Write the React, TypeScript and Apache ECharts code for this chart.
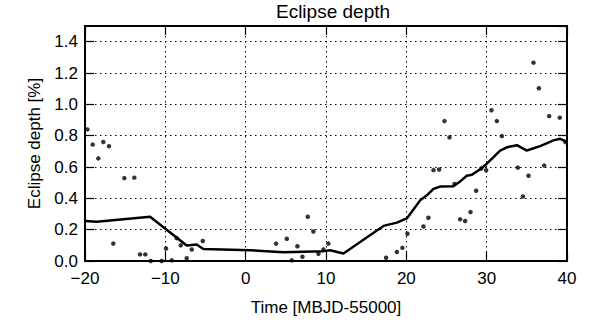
import React, { useEffect, useRef } from "react";
import * as echarts from "echarts";

const chartTitle = "Eclipse depth";
const xAxisTitle = "Time [MBJD-55000]";
const yAxisTitle = "Eclipse depth [%]";

const xTicks = [-20, -10, 0, 10, 20, 30, 40];
const yTicks = [0.0, 0.2, 0.4, 0.6, 0.8, 1.0, 1.2, 1.4];

const dotTimes = [
  -19.7, -19.04, -18.34, -17.72, -17.01, -16.48, -15.1, -13.86, -13.15, -12.49, -11.82, -10.45, -9.91, -9.2, -8.58, -8.08, -7.34, -6.71, -5.34,
  3.79, 5.12, 5.74, 6.44, 7.07, 7.73, 8.43, 9.06, 9.68, 10.3,
  17.48, 18.82, 19.51, 20.14, 22.13, 22.75, 23.38, 24.08, 24.75, 25.37, 25.99, 26.7, 27.32, 27.99, 28.69, 29.32, 29.94,
  30.6, 31.27, 31.89, 33.88, 34.51, 35.21, 35.83, 36.5, 37.16, 37.78, 39.1, 39.8,
];
const dotDepths = [
  0.84, 0.743, 0.655, 0.76, 0.733, 0.111, 0.529, 0.532, 0.042, 0.042, 0.0, 0.0, 0.08, 0.004, 0.146, 0.1, 0.018, 0.073, 0.128,
  0.111, 0.142, 0.004, 0.094, 0.027, 0.282, 0.188, 0.046, 0.073, 0.111,
  0.021, 0.057, 0.084, 0.174, 0.22, 0.276, 0.58, 0.584, 0.893, 0.789, 0.492, 0.266, 0.255, 0.312, 0.448, 0.59, 0.579,
  0.962, 0.893, 0.797, 0.596, 0.412, 0.544, 1.266, 1.103, 0.609, 0.925, 0.915, 0.76,
];

const avgTimes = [
  -20, -18.54, -11.9, -7.34, -6.09, -5.27, 0.55, 4.7, 9.68, 10.5, 12.17, 17.15, 18.82, 20.06, 21.72, 22.55,
  23.38, 24.2, 25.86, 26.7, 27.53, 28.16, 29.19, 30.02, 31.68, 32.52, 33.76, 35.0, 36.66, 38.32, 39.15, 40,
];
const avgDepths = [
  0.256, 0.251, 0.283, 0.099, 0.105, 0.077, 0.069, 0.056, 0.063, 0.069, 0.048, 0.224, 0.245, 0.272, 0.387, 0.419,
  0.46, 0.475, 0.477, 0.508, 0.544, 0.55, 0.586, 0.621, 0.705, 0.726, 0.739, 0.705, 0.733, 0.77, 0.78, 0.76,
];

const FONT = "Liberation Sans, Arial, Helvetica, sans-serif";

export default function App() {
  const ref = useRef<HTMLDivElement>(null);
  useEffect(() => {
    if (!ref.current) return;
    const chart = echarts.init(ref.current, undefined, { renderer: "svg" });
    const gridLine = { show: true, lineStyle: { color: "#000", width: 1, type: [1.5, 3.5] as any } };
    const axisLineStyle = { show: true, onZero: false, lineStyle: { color: "#000", width: 2 } };
    const tickStyle = { show: true, inside: true, length: 9, lineStyle: { color: "#000", width: 1.2 } };
    const xMin = xTicks[0];
    const xMax = xTicks[xTicks.length - 1];
    chart.setOption({
      animation: false,
      backgroundColor: "#fff",
      textStyle: { fontFamily: FONT },
      title: {
        text: chartTitle,
        left: 328,
        textAlign: "center",
        top: -3,
        textStyle: { fontFamily: FONT, fontSize: 19, fontWeight: "normal", color: "#000" },
      },
      grid: { left: 85, right: 33, top: 26, bottom: 56, containLabel: false },
      xAxis: [
        {
          type: "value",
          position: "bottom",
          min: xMin,
          max: xMax,
          interval: 10,
          name: xAxisTitle,
          nameLocation: "middle",
          nameGap: 38,
          nameTextStyle: { fontFamily: FONT, fontSize: 17, color: "#000" },
          axisLine: axisLineStyle,
          axisTick: tickStyle,
          axisLabel: {
            fontFamily: FONT,
            fontSize: 17,
            color: "#000",
            margin: 9,
            formatter: (v: number) => (v < 0 ? "\u2212" + Math.abs(v) : String(v)),
          },
          splitLine: gridLine,
        },
        {
          type: "value",
          position: "top",
          min: xMin,
          max: xMax,
          interval: 10,
          axisLine: axisLineStyle,
          axisTick: tickStyle,
          axisLabel: { show: false },
          splitLine: { show: false },
        },
      ],
      yAxis: [
        {
          type: "value",
          position: "left",
          min: 0,
          max: 1.5,
          interval: 0.2,
          name: yAxisTitle,
          nameLocation: "middle",
          nameGap: 41,
          nameTextStyle: { fontFamily: FONT, fontSize: 17, color: "#000" },
          axisLine: axisLineStyle,
          axisTick: tickStyle,
          axisLabel: {
            fontFamily: FONT,
            fontSize: 17,
            color: "#000",
            margin: 7,
            showMaxLabel: false,
            formatter: (v: number) => (yTicks.some((t) => Math.abs(t - v) < 1e-6) ? v.toFixed(1) : ""),
          },
          splitLine: gridLine,
        },
        {
          type: "value",
          position: "right",
          min: 0,
          max: 1.5,
          interval: 0.2,
          axisLine: axisLineStyle,
          axisTick: tickStyle,
          axisLabel: { show: false },
          splitLine: { show: false },
        },
      ],
      series: [
        {
          type: "line",
          data: avgTimes.map((t, i) => [t, avgDepths[i]]),
          showSymbol: false,
          symbol: "none",
          lineStyle: { color: "#000", width: 2.5 },
          z: 3,
        },
        {
          type: "scatter",
          data: dotTimes.map((t, i) => [t, dotDepths[i]]),
          symbol: "circle",
          symbolSize: 4.5,
          itemStyle: { color: "#000" },
          z: 4,
          clip: false,
        },
      ],
    });
    return () => chart.dispose();
  }, []);
  return <div ref={ref} style={{ width: 600, height: 321, position: "fixed", left: 0, top: 0 }} />;
}
